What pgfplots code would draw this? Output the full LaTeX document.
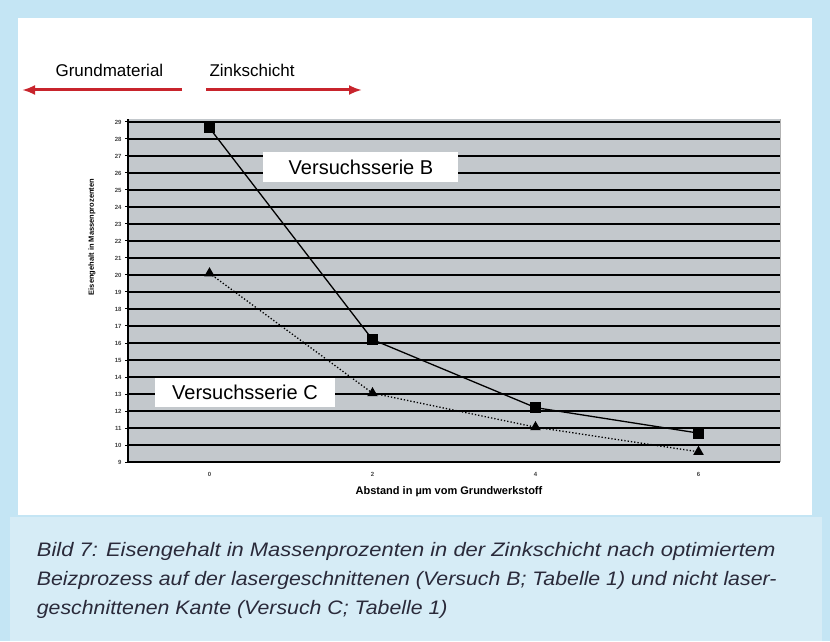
\documentclass[border=0pt]{standalone}
\usepackage{pgfplots}
\pgfplotsset{compat=1.18}
\usetikzlibrary{arrows.meta}
\usepackage{fontspec}
\setmainfont{Liberation Sans}
\definecolor{outerblue}{HTML}{C4E5F4}
\definecolor{capblue}{HTML}{D6ECF6}
\definecolor{plotgray}{HTML}{C3C8CC}
\definecolor{arrowred}{HTML}{C8242C}
\definecolor{captext}{HTML}{2A2A3A}
\begin{document}
\begin{tikzpicture}[x=1pt,y=1pt]
% background
\fill[outerblue] (0,0) rectangle (830,641);
\fill[capblue] (10,0) rectangle (822,124);
\fill[white] (18,126) rectangle (812,623);
% arrows
\node[anchor=base west,font=\fontsize{17}{17}\selectfont] at (52,564) {Grundmaterial};
\node[anchor=base west,font=\fontsize{17}{17}\selectfont] at (206,564) {Zinkschicht};
\draw[arrowred,line width=3pt,-{Latex[length=13pt,width=10pt]}] (182,551) -- (22,551);
\draw[arrowred,line width=3pt,-{Latex[length=13pt,width=10pt]}] (206,551) -- (362,551);
\begin{axis}[
  at={(128pt,179pt)}, anchor=south west,
  scale only axis, width=652pt, height=343.4pt,
  xmin=-0.5, xmax=3.5, ymin=9, ymax=29.2,
  axis x line=bottom, axis y line=left,
  axis line style={-, black, line width=1.6pt},
  axis background/.style={fill=plotgray},
  xtick={0,1,2,3}, xticklabels={0,2,4,6},
  xtick style={draw=none},
  extra x ticks={0.5,1.5,2.5}, extra x tick labels={},
  extra x tick style={tick style={draw=black, line width=1pt}, major tick length=5pt, tick align=outside},
  ytick={9,...,29},
  ytick style={black, line width=1pt}, major tick length=6pt, tick align=center,
  ymajorgrids, grid style={black, line width=2.4pt},
  tick label style={font=\fontsize{6}{6}\selectfont\bfseries, text=black!75},
  /pgf/number format/assume math mode=true,
  xticklabel style={yshift=-4pt},
  clip=false,
]
\addplot[black, line width=1.3pt, mark=square*, mark size=4.8pt, mark options={solid}] coordinates {(0,28.65) (1,16.2) (2,12.2) (3,10.7)};
\addplot[black, line width=1.3pt, dotted, mark=triangle*, mark size=4.8pt, mark options={solid}] coordinates {(0,20.1) (1,13.05) (2,11.05) (3,9.6)};
\end{axis}
\draw[gray!60, line width=1pt] (780,179) -- (780,522.4);
% annotation boxes
\fill[white] (263,459) rectangle (458,489);
\node[font=\fontsize{20}{20}\selectfont] at (361,474) {Versuchsserie B};
\fill[white] (155,234) rectangle (335,263);
\node[font=\fontsize{20}{20}\selectfont] at (245,248.5) {Versuchsserie C};
% axis labels
\node[rotate=90, font=\fontsize{7.5}{7.5}\selectfont\bfseries] at (92,404) {Eisengehalt in Massenprozenten};
\node[font=\fontsize{11}{11}\selectfont\bfseries] at (449,149) {Abstand in µm vom Grundwerkstoff};
% caption
\begin{scope}[captext, font=\fontsize{19.5}{19.5}\selectfont\itshape]
\node[anchor=base west, xscale=1.125] at (33,85) {Bild 7: Eisengehalt in Massenprozenten in der Zinkschicht nach optimiertem};
\node[anchor=base west, xscale=1.093] at (33,56) {Beizprozess auf der lasergeschnittenen (Versuch B; Tabelle 1) und nicht laser-};
\node[anchor=base west, xscale=1.093] at (33,27) {geschnittenen Kante (Versuch C; Tabelle 1)};
\end{scope}
\end{tikzpicture}
\end{document}
